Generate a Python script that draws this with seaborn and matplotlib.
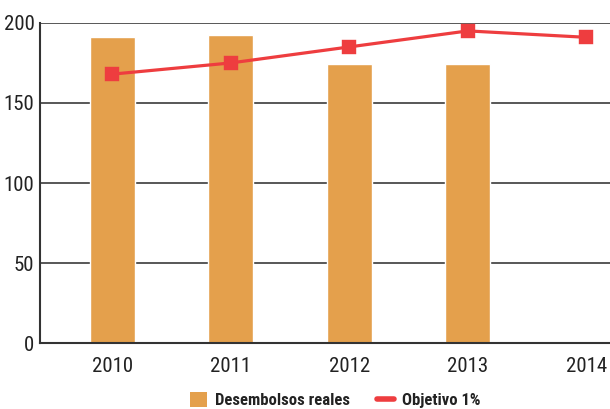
import matplotlib
matplotlib.use("Agg")
import matplotlib.pyplot as plt
import seaborn as sns
import numpy as np
import pandas as pd
from matplotlib.patches import Patch
from matplotlib.lines import Line2D
from matplotlib import font_manager

years = ["2010", "2011", "2012", "2013", "2014"]
desembolsos = [191, 192.5, 174.5, 174.5, np.nan]
objetivo = [168, 175, 185, 195, 191]
yticks = [0, 50, 100, 150, 200]

sns.set_theme(style="white")
names = {f.name for f in font_manager.fontManager.ttflist}
fam = "DejaVu Sans"
for cand in ["Roboto Condensed", "Liberation Sans Narrow", "Roboto"]:
    if cand in names:
        fam = cand
        break
plt.rcParams["font.family"] = [fam, "DejaVu Sans"]

orange = "#E4A04C"
red = "#EE3D3F"

df = pd.DataFrame({"year": years, "Desembolsos reales": desembolsos, "Objetivo 1%": objetivo})

fig = plt.figure(figsize=(6.1, 4.09), dpi=100)
ax = fig.add_axes([0.0656, 0.161, 0.9344, 0.783])

sns.barplot(data=df, x="year", y="Desembolsos reales", color=orange, width=0.38,
            saturation=1, ax=ax, zorder=2)
sns.pointplot(data=df, x="year", y="Objetivo 1%", color=red, markers="s",
              linewidth=2.3, markersize=8, ax=ax, zorder=3)

ax.set_xlim(-0.61, 4.2)
ax.set_ylim(0, 200)
ax.set_yticks(yticks)
ax.set_yticklabels([str(v) for v in yticks])
ax.yaxis.grid(True, color="#4a4a4a", linewidth=1.3, zorder=1)
ax.set_axisbelow(True)
ax.set_xlabel("")
ax.set_ylabel("")
for s in ["top", "right"]:
    ax.spines[s].set_visible(False)
for s in ["left", "bottom"]:
    ax.spines[s].set_color("#333333")
    ax.spines[s].set_linewidth(1.5)
ax.tick_params(axis="both", length=0, labelsize=15, colors="#222222")
ax.tick_params(axis="x", pad=10)
ax.tick_params(axis="y", pad=4)

handles = [Patch(facecolor=orange, edgecolor="none"),
           Line2D([0], [0], color=red, linewidth=4)]
leg = fig.legend(handles, ["Desembolsos reales", "Objetivo 1%"], loc="lower center",
                 bbox_to_anchor=(0.55, -0.035), ncol=2, frameon=False,
                 prop={"weight": "bold", "size": 12}, handlelength=1.0, handleheight=1.0,
                 columnspacing=1.6, handletextpad=0.5)
for t in leg.get_texts():
    t.set_color("#222222")

fig.savefig("out.png", dpi=100)
